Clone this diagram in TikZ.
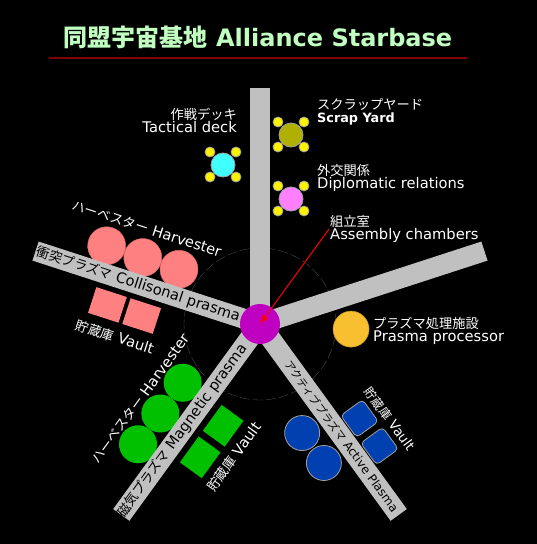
\documentclass[tikz,border=0pt]{standalone}
\usepackage{fontspec}
\setmainfont{DejaVu Sans}
\newfontfamily\jp{Noto Sans CJK JP}[Scale=0.9]
\newfontfamily\jpbig{Noto Sans CJK JP}
\usetikzlibrary{arrows.meta,calc}

\definecolor{armgray}{HTML}{C0C0C0}
\definecolor{hubpurple}{HTML}{C000C0}
\definecolor{titlegreen}{HTML}{C0FFC0}
\definecolor{rulered}{HTML}{800000}
\definecolor{ringgray}{HTML}{484848}
\definecolor{rimgray}{HTML}{A0A0A0}
\definecolor{colpink}{HTML}{FF8080}
\definecolor{maggreen}{HTML}{00C000}
\definecolor{actblue}{HTML}{0040B0}
\definecolor{procorange}{HTML}{F8C030}
\definecolor{deckcyan}{HTML}{40FFFF}
\definecolor{scrapolive}{HTML}{B0B000}
\definecolor{diplpink}{HTML}{FF80FF}

\tikzset{
  lbl/.style={text=white, align=left, inner sep=1pt, font=\fontsize{14.7}{13}\selectfont},
  armtext/.style={text=black, inner sep=0pt, font=\fontsize{14.6}{14}\selectfont},
  sidetext/.style={text=white, inner sep=0pt, font=\fontsize{14.6}{14}\selectfont},
  pod/.style={circle, draw=rimgray, line width=0.8pt, minimum size=24pt, inner sep=0pt},
  thruster/.style={circle, draw=rimgray, fill=yellow, line width=0.8pt, minimum size=10pt, inner sep=0pt},
  harv/.style={circle, minimum size=38pt, inner sep=0pt},
  vault/.style={minimum width=32pt, minimum height=27pt, inner sep=0pt},
}

\begin{document}
\begin{tikzpicture}[x=1pt,y=1pt]
    % Background
    \fill[black] (0,0) rectangle (537,-544);

    % Title
    \node[text=titlegreen, font=\fontsize{24}{28}\selectfont\bfseries] (title) at (258,-37)
        {{\jpbig 同盟宇宙基地} Alliance Starbase};
    \draw[rulered, line width=1.5pt] (49,-58) -- (467,-58);

    % Ring round the hub
    \coordinate (c) at (260,-324);
    \draw[ringgray, dash pattern=on 10pt off 3pt] (c) circle[radius=76pt];

    % Collisonal arm
    \begin{scope}[shift={(c)}, rotate=-18, transform shape]
        \foreach \u [count=\i] in {-94,-132,-170}
            \node[harv, fill=colpink, draw=colpink!80!black, line width=0.5pt] (colh\i) at (\u,27) {};
        \foreach \u [count=\i] in {-115,-151}
            \node[vault, fill=colpink] (colv\i) at (\u,-29) {};
        \fill[armgray] (-236,-10) rectangle (0,10);
        \node[armtext] (colarm) at (-128,0) {{\jp 衝突プラズマ} Collisonal prasma};
        \node[sidetext] (colharv) at (-137,56) {{\jp ハーベスター} Harvester};
        \node[sidetext] (colvault) at (-134,-57) {{\jp 貯蔵庫} Vault};
    \end{scope}

    % Magnetic arm
    \begin{scope}[shift={(c)}, rotate=54, transform shape]
        \foreach \u [count=\i] in {-93,-131,-169}
            \node[harv, fill=maggreen] (magh\i) at (\u,28) {};
        \foreach \u [count=\i] in {-104,-143}
            \node[vault, fill=maggreen] (magv\i) at (\u,-30) {};
        \fill[armgray] (-236,-10) rectangle (0,10);
        \node[armtext] (magarm) at (-132,0) {{\jp 磁気プラズマ} Magnetic prasma};
        \node[sidetext] (magharv) at (-131,53) {{\jp ハーベスター} Harvester};
        \node[sidetext] (magvault) at (-123,-57) {{\jp 貯蔵庫} Vault};
    \end{scope}

    % Active arm
    \begin{scope}[shift={(c)}, rotate=-54, transform shape]
        \foreach \u [count=\i] in {113,150}
            \node[circle, minimum size=35pt, inner sep=0pt, fill=actblue, draw=rimgray, line width=0.8pt]
                (acth\i) at (\u,-30) {};
        \foreach \u [count=\i] in {135,169}
            \node[minimum size=27pt, inner sep=0pt, rounded corners=4pt, fill=actblue, draw=rimgray, line width=0.8pt]
                (actv\i) at (\u,25) {};
        \fill[armgray] (0,-10) rectangle (236,10);
        \node[armtext, font=\fontsize{12}{12}\selectfont] (actarm) at (139,0) {{\jp アクティブプラズマ} Active Plasma};
        \node[sidetext, font=\fontsize{13.5}{13}\selectfont] (actvault) at (153,49) {{\jp 貯蔵庫} Vault};
    \end{scope}

    % Processor arm
    \begin{scope}[shift={(c)}, rotate=18]
        \node[circle, minimum size=36pt, inner sep=0pt, fill=procorange, draw=procorange!80!black, line width=0.5pt]
            (proc) at (85,-33) {};
        \fill[armgray] (0,-10) rectangle (236,10);
    \end{scope}
    \node[lbl, anchor=west] (proclbl) at (372,-330.5) {{\jp プラズマ処理施設}\\Prasma processor};

    % Docking arm
    \fill[armgray] (250,-324) rectangle (270,-88);
    \foreach \name/\pos/\col in {deck/{223,-165}/deckcyan, scrap/{291,-135}/scrapolive, dipl/{291,-199}/diplpink} {
        \foreach \dx/\dy [count=\i] in {-13/13, 13/13, -13/-12, 13/-12}
            \node[thruster] (\name t\i) at ($(\pos)+(\dx,\dy)$) {};
        \node[pod, fill=\col] (\name) at (\pos) {};
    }
    \node[lbl, align=right, anchor=east] (decklbl) at (238,-120.5) {{\jp 作戦デッキ}\\Tactical deck};
    \node[lbl, anchor=west] (scraplbl) at (316,-111.5) {{\jp スクラップヤード}\\{\fontsize{12.8}{13}\selectfont\bfseries Scrap Yard}};
    \node[lbl, anchor=west] (dipllbl) at (316,-178) {{\jp 外交関係}\\Diplomatic relations};
    \node[lbl, anchor=west] (asm) at (329,-229) {{\jp 組立室}\\Assembly chambers};

    % Hub
    \node[circle, fill=hubpurple, minimum size=40pt, inner sep=0pt] (hub) at (c) {};
    \draw[red, line width=1pt, -{Latex[length=9pt,width=7pt]}] (asm.west) -- (hub.center);
\end{tikzpicture}
\end{document}
